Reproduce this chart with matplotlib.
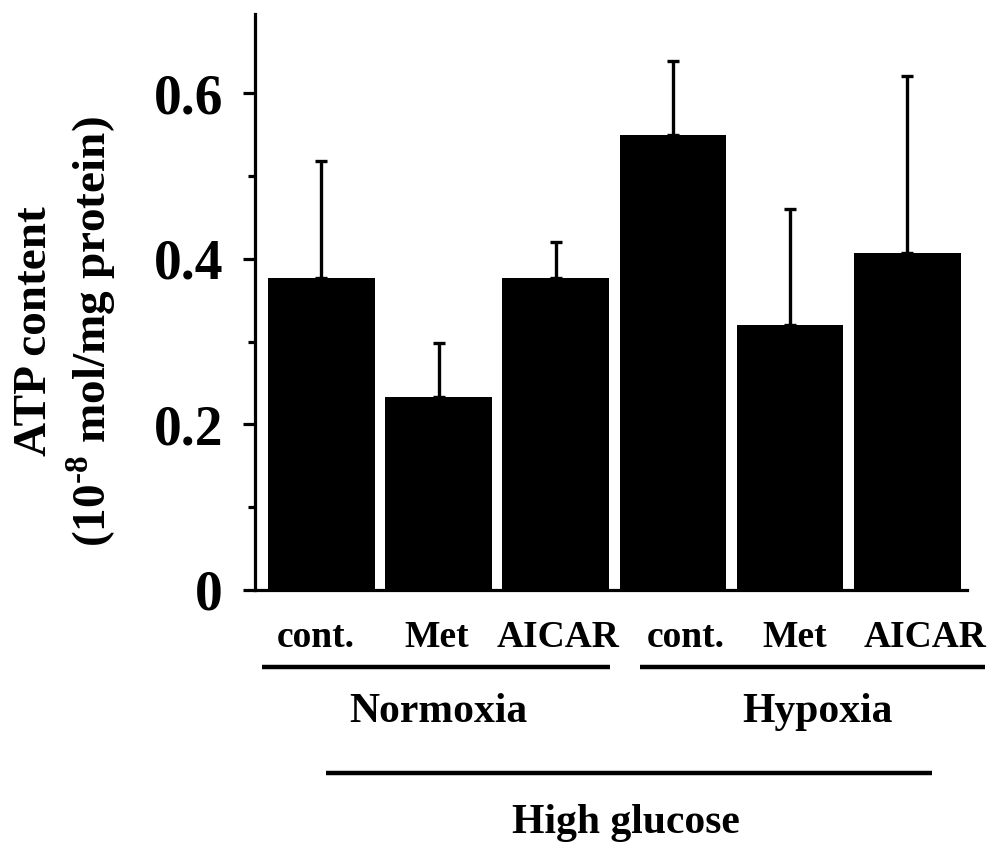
import numpy as np
import matplotlib
matplotlib.use('Agg')
import matplotlib.pyplot as plt
import matplotlib.transforms as mtransforms

# data
conditions = ['cont.', 'Met', 'AICAR', 'cont.', 'Met', 'AICAR']
atp_mean = [0.377, 0.233, 0.377, 0.549, 0.320, 0.407]
atp_err = [0.141, 0.065, 0.043, 0.090, 0.140, 0.214]
groups = ['Normoxia', 'Hypoxia']
outer_label = 'High glucose'
y_ticks = [0, 0.2, 0.4, 0.6]
y_tick_labels = ['0', '0.2', '0.4', '0.6']

plt.rcParams['font.family'] = ['Liberation Serif', 'DejaVu Serif']
plt.rcParams['font.weight'] = 'bold'
plt.rcParams['mathtext.fontset'] = 'custom'
plt.rcParams['mathtext.rm'] = 'Liberation Serif:bold'
plt.rcParams['mathtext.bf'] = 'Liberation Serif:bold'

fig = plt.figure(figsize=(9.93, 8.5), dpi=100)
ax = fig.add_axes([0.2568, 0.3059, 0.717, 0.6776])

x = np.arange(len(atp_mean))
ax.bar(x, atp_mean, width=0.91, color='black',
       yerr=[np.zeros(len(atp_err)), atp_err],
       error_kw=dict(ecolor='black', elinewidth=2.4, capsize=4.5, capthick=2.4))

ax.set_xlim(-0.567, 5.51)
ax.set_ylim(0, 0.6954)

for s in ['top', 'right']:
    ax.spines[s].set_visible(False)
ax.spines['left'].set_linewidth(2.3)
ax.spines['bottom'].set_linewidth(2.3)

ax.set_xticks([])
ax.set_yticks(y_ticks)
ax.set_yticklabels(y_tick_labels, fontsize=40, fontweight='bold')
ax.set_yticks([0.1, 0.3, 0.5], minor=True)
ax.tick_params(axis='y', which='major', length=9, width=2.3, pad=14)
ax.tick_params(axis='y', which='minor', length=5, width=2.3)

# y label (two lines)
fig.text(0.035, 0.61, 'ATP content', rotation=90, ha='center', va='center',
         fontsize=34, fontweight='bold')
fig.text(0.092, 0.61, r'(10$^{\text{-8}}$ mol/mg protein)', rotation=90,
         ha='center', va='center', fontsize=34, fontweight='bold')

trans = mtransforms.blended_transform_factory(ax.transData, ax.transAxes)

# condition labels (slightly off-centre as in the original)
label_shift = [-0.05, -0.02, 0.02, 0.11, 0.04, 0.15]
for xi, dx, lab in zip(x, label_shift, conditions):
    ax.text(xi + dx, -0.083, lab, transform=trans, ha='center', va='center',
            fontsize=27, fontweight='bold')

# group lines and labels
group_spans = [(-0.51, 2.46), (2.72, 5.66)]
group_text_x = [1.0, 4.23]
for (x0, x1), gx, g in zip(group_spans, group_text_x, groups):
    ax.plot([x0, x1], [-0.134, -0.134], color='black', lw=3.2,
            transform=trans, clip_on=False, solid_capstyle='butt')
    ax.text(gx, -0.212, g, transform=trans, ha='center',
            va='center', fontsize=30, fontweight='bold')

ax.plot([0.04, 5.21], [-0.318, -0.318], color='black', lw=3.2,
        transform=trans, clip_on=False, solid_capstyle='butt')
ax.text(2.6, -0.405, outer_label, transform=trans, ha='center', va='center',
        fontsize=30, fontweight='bold')

fig.savefig('out.png', dpi=100)
